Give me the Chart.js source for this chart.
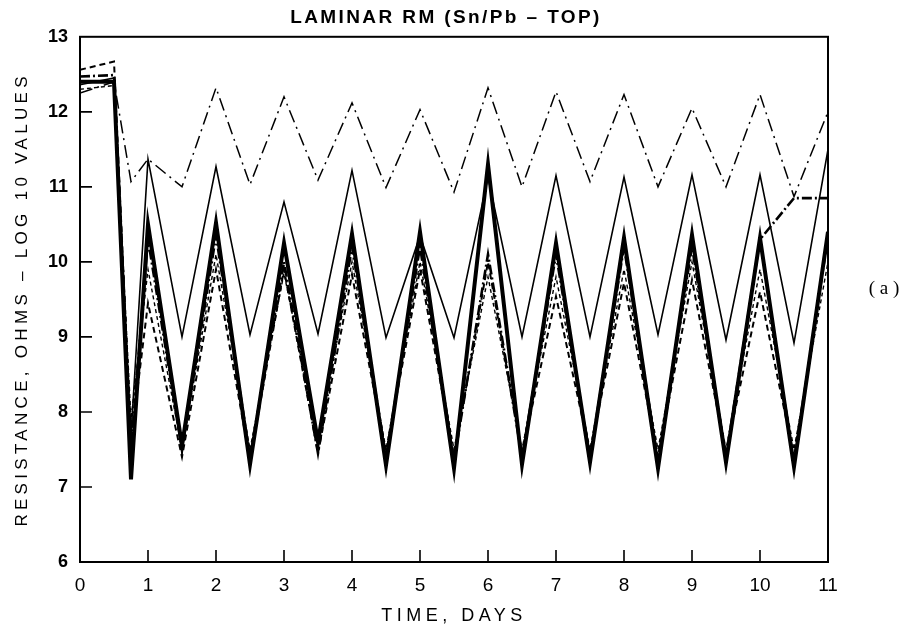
<!DOCTYPE html>
<html>
<head>
<meta charset="utf-8">
<title>Laminar RM (Sn/Pb - Top)</title>
<script src="https://cdn.jsdelivr.net/npm/chart.js@4.4.1/dist/chart.umd.min.js"></script>
<style>
  body { margin: 0; background: #fff; }
  #myChart { display: block; }
</style>
</head>
<body>
<canvas id="myChart" width="902" height="632"></canvas>
<script>
// time in days (cycle points)
const days = [0, 0.5, 0.75, 1, 1.5, 2, 2.5, 3, 3.5, 4, 4.5, 5, 5.5, 6, 6.5, 7, 7.5, 8, 8.5, 9, 9.5, 10, 10.5, 11];

// log10 resistance values, one array per trace
const upperDashDot = [12.25, 12.4, 11.07, 11.37, 11.0, 12.32, 11.03, 12.2, 11.09, 12.12, 10.99, 12.03, 10.93, 12.32, 11.0, 12.27, 11.07, 12.23, 11.0, 12.05, 11.0, 12.23, 10.87, 12.0];
const thinSolid = [12.36, 12.45, 7.7, 11.37, 9.0, 11.27, 9.03, 10.8, 9.04, 11.22, 8.99, 10.35, 8.99, 11.13, 9.0, 11.15, 9.0, 11.13, 9.03, 11.16, 8.96, 11.16, 8.92, 11.5];
const thickSolid = [12.4, 12.4, 7.1, 10.5, 7.55, 10.52, 7.3, 10.25, 7.6, 10.37, 7.29, 10.4, 7.25, 11.3, 7.3, 10.25, 7.33, 10.32, 7.25, 10.36, 7.33, 10.32, 7.27, 10.4];
const dashDot = [12.47, 12.49, 7.5, 10.3, 7.5, 10.35, 7.4, 10.0, 7.45, 10.2, 7.4, 10.2, 7.35, 10.1, 7.4, 10.1, 7.4, 10.2, 7.35, 10.2, 7.4, 10.3, 10.85, 10.85];
const shortDash = [12.56, 12.67, 7.6, 9.45, 7.4, 9.9, 7.35, 9.9, 7.45, 9.83, 7.45, 9.9, 7.4, 10.0, 7.45, 9.54, 7.45, 9.72, 7.4, 9.76, 7.45, 9.6, 7.4, 10.3];
const fineDash = [12.3, 12.35, 7.9, 9.9, 7.5, 10.1, 7.5, 9.85, 7.6, 10.0, 7.5, 10.0, 7.5, 9.8, 7.5, 9.8, 7.5, 9.9, 7.5, 10.0, 7.5, 9.9, 7.5, 10.0];

const xTicks = [0, 1, 2, 3, 4, 5, 6, 7, 8, 9, 10, 11];
const yTicks = [6, 7, 8, 9, 10, 11, 12, 13];

const titleText = 'LAMINAR RM (Sn/Pb \u2013 TOP)';
const xTitle = 'TIME, DAYS';
const yTitle = 'RESISTANCE, OHMS \u2013 LOG 10 VALUES';
const panelLabel = '( a )';

const pts = (vals) => vals.map((v, i) => ({ x: days[i], y: v }));

function line(vals, width, dash) {
  return {
    data: pts(vals),
    borderColor: '#000',
    borderWidth: width,
    borderDash: dash,
    pointRadius: 0,
    tension: 0,
    fill: false,
    clip: 0,
  };
}

// wrap a draw method so its text gets letter spacing (and an optional shift)
function spaced(obj, method, spacing, dx) {
  if (!obj || obj['_spaced_' + method]) return;
  const orig = obj[method].bind(obj);
  obj[method] = function (...args) {
    const ctx = obj.ctx;
    ctx.save();
    ctx.letterSpacing = spacing;
    if (dx) ctx.translate(dx, 0);
    orig(...args);
    ctx.restore();
  };
  obj['_spaced_' + method] = true;
}

const framePlugin = {
  id: 'frame',
  afterLayout(chart) {
    spaced(chart.scales.x, 'drawTitle', '4.5px');
    spaced(chart.scales.y, 'drawTitle', '4.3px');
    spaced(chart.titleBlock, 'draw', '2.4px', 32);
  },
  afterDatasetsDraw(chart) {
    const { ctx, chartArea: a, scales } = chart;
    ctx.save();
    ctx.strokeStyle = '#000';
    ctx.lineWidth = 2;
    ctx.strokeRect(a.left, a.top, a.right - a.left, a.bottom - a.top);
    // inward tick marks
    ctx.lineWidth = 1.6;
    ctx.beginPath();
    xTicks.forEach(t => {
      if (t === 0 || t === 11) return;
      const px = scales.x.getPixelForValue(t);
      ctx.moveTo(px, a.bottom);
      ctx.lineTo(px, a.bottom - 12);
    });
    yTicks.forEach(t => {
      if (t === 6 || t === 13) return;
      const py = scales.y.getPixelForValue(t);
      ctx.moveTo(a.left, py);
      ctx.lineTo(a.left + 12, py);
    });
    ctx.stroke();
    ctx.restore();
  },
  afterDraw(chart) {
    const ctx = chart.ctx;
    ctx.save();
    ctx.fillStyle = '#000';
    ctx.font = '19px "Liberation Serif"';
    ctx.textAlign = 'center';
    ctx.textBaseline = 'middle';
    ctx.fillText(panelLabel, 884, 289);
    ctx.restore();
  }
};

new Chart(document.getElementById('myChart').getContext('2d'), {
  type: 'line',
  data: {
    datasets: [
      line(upperDashDot, 1.5, [13, 5, 2, 5]),
      line(thinSolid, 1.6, []),
      line(thickSolid, 4, []),
      line(dashDot, 2.6, [10, 3, 2, 3]),
      line(shortDash, 2, [6, 4]),
      line(fineDash, 1.4, [4, 3]),
    ]
  },
  options: {
    responsive: false,
    animation: false,
    layout: { padding: { left: 0, right: 74, top: 0, bottom: 0 } },
    plugins: {
      legend: { display: false },
      tooltip: { enabled: false },
      title: {
        display: true,
        text: titleText,
        color: '#000',
        font: { family: '"Liberation Sans"', size: 19, weight: 'bold' },
        padding: { top: 6, bottom: 8 },
      }
    },
    scales: {
      x: {
        type: 'linear',
        min: 0,
        max: 11,
        afterFit: s => { s.height = 70; },
        afterBuildTicks: s => { s.ticks = xTicks.map(v => ({ value: v })); },
        grid: { display: false, drawTicks: false },
        border: { display: false },
        ticks: {
          color: '#000',
          padding: 12,
          maxRotation: 0,
          font: { family: '"Liberation Sans"', size: 19 },
        },
        title: {
          display: true,
          text: xTitle,
          color: '#000',
          font: { family: '"Liberation Sans"', size: 18 },
          padding: { top: 0, bottom: 5 },
        }
      },
      y: {
        type: 'linear',
        min: 6,
        max: 13,
        afterFit: s => { s.width = 80; },
        afterBuildTicks: s => { s.ticks = yTicks.map(v => ({ value: v })); },
        grid: { display: false, drawTicks: false },
        border: { display: false },
        ticks: {
          color: '#000',
          padding: 12,
          font: { family: '"Liberation Sans"', size: 18, weight: 'bold' },
        },
        title: {
          display: true,
          text: yTitle,
          color: '#000',
          font: { family: '"Liberation Sans"', size: 17 },
          padding: { top: 12, bottom: 0 },
        }
      }
    }
  },
  plugins: [framePlugin]
});
</script>
</body>
</html>
